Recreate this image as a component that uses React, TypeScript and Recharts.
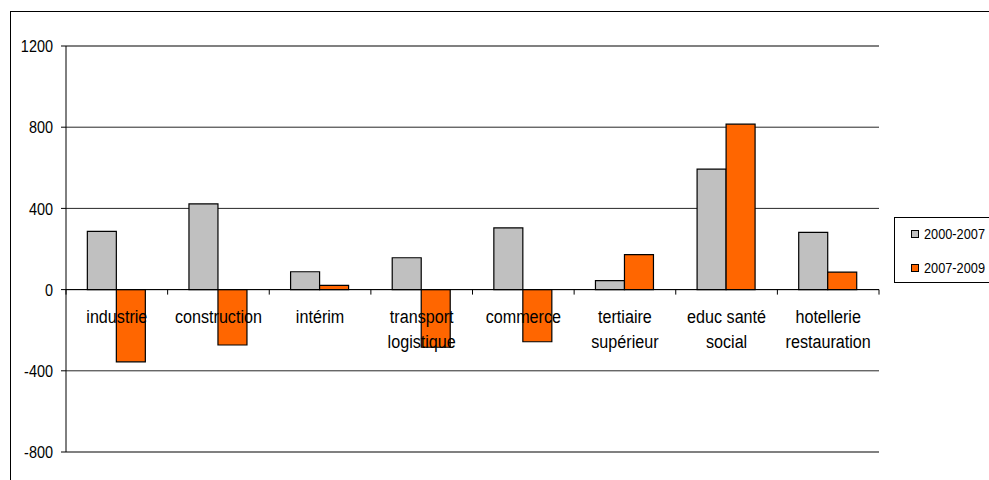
import React from 'react';
import { BarChart, Bar, XAxis, YAxis, CartesianGrid, ReferenceLine } from 'recharts';

// categories and the two periods
const categories = ['industrie', 'construction', 'intérim', 'transport logistique', 'commerce', 'tertiaire supérieur', 'educ santé social', 'hotellerie restauration'];
const labelLines = [['industrie'], ['construction'], ['intérim'], ['transport', 'logistique'], ['commerce'], ['tertiaire', 'supérieur'], ['educ santé', 'social'], ['hotellerie', 'restauration']];
const period1 = [287, 422, 88, 157, 304, 44, 593, 282];
const period2 = [-356, -273, 21, -284, -257, 172, 815, 86];
const yTicks = [1200, 800, 400, 0, -400, -800];
const seriesNames = ['2000-2007', '2007-2009'];
const colors = ['#C0C0C0', '#FF6600'];

const W = 989;
const H = 480;
const margin = { top: 46, right: 110, bottom: 26, left: 10 };
const X_AXIS_H = 2;
const Y_AXIS_W = 56;
const yMax = 1200;
const yMin = -800;

const plotLeft = margin.left + Y_AXIS_W;
const plotW = W - plotLeft - margin.right;
const plotH = H - margin.top - margin.bottom - X_AXIS_H;
const zeroY = margin.top + (plotH * yMax) / (yMax - yMin);
const band = plotW / categories.length;

const data = categories.map((c, i) => ({ name: c, p1: period1[i], p2: period2[i] }));

const FONT = '"Liberation Sans", Arial, sans-serif';

// tick marks sit on the zero line, between categories
const BoundaryTick = (props: any) => {
  const { x, payload } = props;
  const i = categories.indexOf(payload.value);
  return (
    <g>
      <line x1={x - band / 2} x2={x - band / 2} y1={zeroY} y2={zeroY + 5} stroke="#000" />
      {i === categories.length - 1 && (
        <line x1={x + band / 2} x2={x + band / 2} y1={zeroY} y2={zeroY + 5} stroke="#000" />
      )}
    </g>
  );
};

const makeLabel = (i: number) => (props: any) => {
  const { viewBox } = props;
  const x = viewBox.x;
  return (
    <g>
      {labelLines[i].map((l, k) => (
        <text
          key={k}
          transform={`translate(${x},${zeroY + 33 + k * 25}) scale(0.85,1)`}
          textAnchor="middle"
          fontSize={19}
          fontFamily={FONT}
          fill="#000"
        >
          {l}
        </text>
      ))}
    </g>
  );
};

const ValueTick = (props: any) => {
  const { x, y, payload } = props;
  return (
    <text
      transform={`translate(${x},${y}) scale(0.85,1)`}
      textAnchor="end"
      dy="0.36em"
      fontSize={17}
      fontFamily={FONT}
      fill="#000"
    >
      {payload.value}
    </text>
  );
};

const LegendBox = () => (
  <div
    style={{
      position: 'absolute',
      left: 894,
      top: 217,
      border: '1px solid #000',
      background: '#fff',
      width: 110,
      height: 66,
      boxSizing: 'border-box',
      fontFamily: FONT,
      paddingTop: 3,
    }}
  >
    {seriesNames.map((n, i) => (
      <div key={n} style={{ display: 'flex', alignItems: 'center', height: 25, marginBottom: i === 0 ? 9 : 0 }}>
        <span
          style={{
            display: 'inline-block',
            width: 6,
            height: 6,
            border: '1px solid #000',
            background: colors[i],
            marginLeft: 16,
            marginRight: 5,
          }}
        />
        <span style={{ fontSize: 15, display: 'inline-block', transform: 'scale(0.85,1)', transformOrigin: 'left center', color: '#000' }}>
          {n}
        </span>
      </div>
    ))}
  </div>
);

export default function App() {
  return (
    <div style={{ position: 'fixed', left: 0, top: 0, width: W, height: H, overflow: 'hidden', background: '#fff' }}>
      <div
        style={{
          position: 'absolute',
          left: 10,
          top: 11,
          width: 1100,
          height: 600,
          border: '1px solid #000',
        }}
      />
      <div style={{ position: 'absolute', left: 0, top: 0 }}>
        <BarChart width={W} height={H} data={data} margin={margin} barCategoryGap="21%" barGap={0}>
          <CartesianGrid vertical={false} stroke="#000" strokeOpacity={0.85} />
          <XAxis
            dataKey="name"
            height={X_AXIS_H}
            axisLine={{ stroke: '#808080', strokeWidth: 2 }}
            tickLine={false}
            tick={<BoundaryTick />}
            interval={0}
          />
          <YAxis
            width={Y_AXIS_W}
            domain={[yMin, yMax]}
            ticks={yTicks}
            type="number"
            allowDataOverflow
            axisLine={{ stroke: '#000' }}
            tickLine={{ stroke: '#000' }}
            tickSize={5}
            tickMargin={8}
            tick={<ValueTick />}
          />
          <YAxis
            yAxisId="frame"
            orientation="right"
            width={0}
            domain={[yMin, yMax]}
            type="number"
            tick={false}
            tickLine={false}
            axisLine={{ stroke: '#808080', strokeWidth: 1.5 }}
          />
          <ReferenceLine y={yMax} stroke="#808080" strokeWidth={2} />
          <Bar dataKey="p1" name={seriesNames[0]} fill={colors[0]} stroke="#000" strokeWidth={1.2} isAnimationActive={false} />
          <Bar dataKey="p2" name={seriesNames[1]} fill={colors[1]} stroke="#000" strokeWidth={1.2} isAnimationActive={false} />
          <ReferenceLine y={0} stroke="#000" />
          {categories.map((c, i) => (
            <ReferenceLine key={c} x={c} stroke="none" label={makeLabel(i)} />
          ))}
        </BarChart>
      </div>
      <LegendBox />
    </div>
  );
}
